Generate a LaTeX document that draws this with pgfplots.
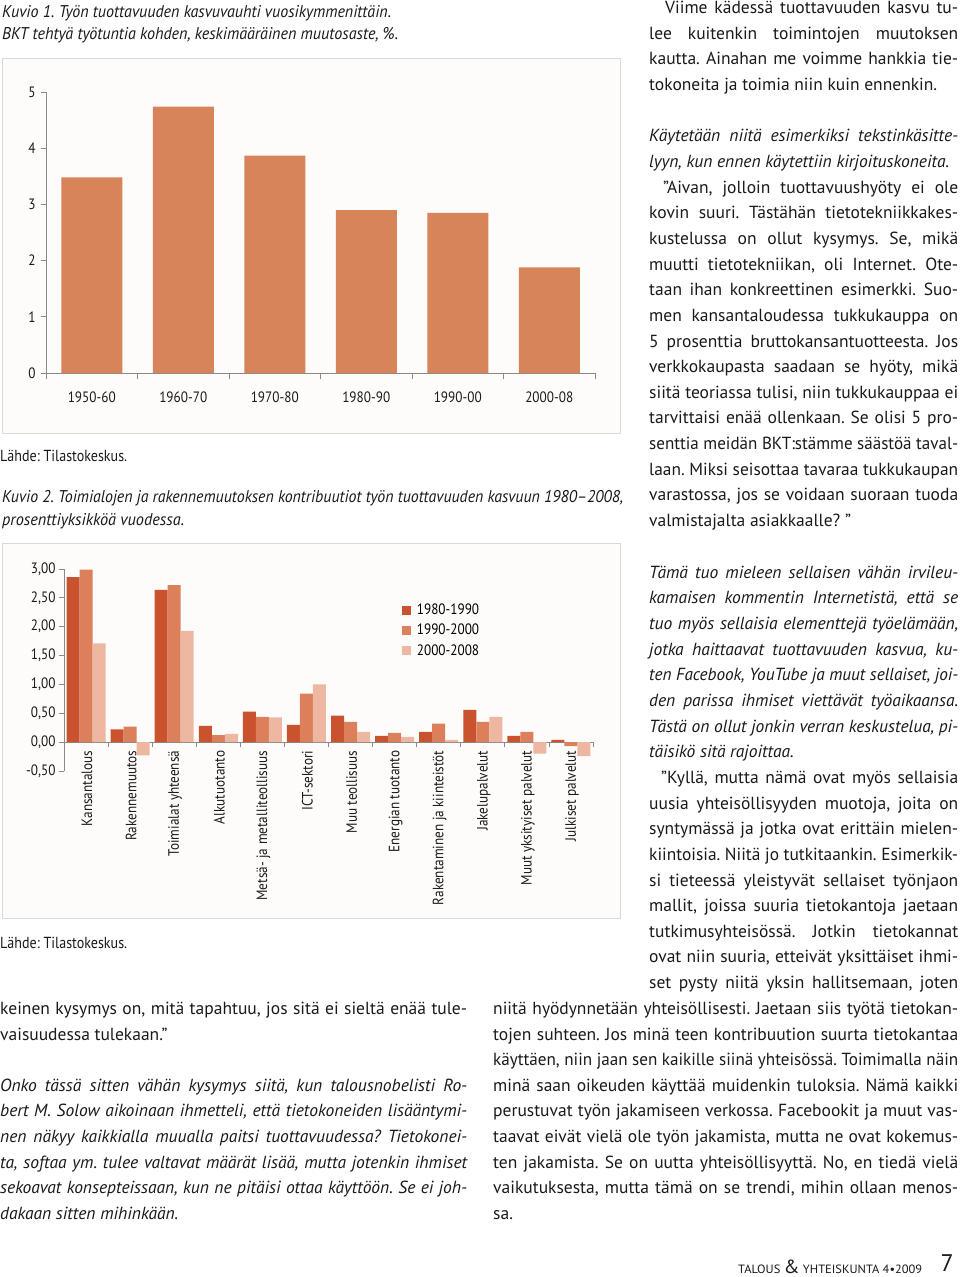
\documentclass[border=0pt]{standalone}
\usepackage{fontspec}
\usepackage{graphicx}
\usepackage{pgfplots}
\pgfplotsset{compat=1.18}
\setmainfont{PT Sans}
\newfontfamily\bodyfont{PT Sans}
\newfontfamily\condfont[FakeStretch=0.88]{PT Sans}
\newfontfamily\capfontfam[FakeStretch=0.8]{PT Sans}
\frenchspacing
\definecolor{barone}{HTML}{D8845A}
\definecolor{cA}{HTML}{C9532F}
\definecolor{cB}{HTML}{DC805C}
\definecolor{cC}{HTML}{EDB7A2}
\definecolor{frm}{HTML}{DDD8D2}
\definecolor{panel}{HTML}{FDFCFA}
\definecolor{axgray}{HTML}{8A8A8A}
\definecolor{txt}{HTML}{1A1A1A}
\newlength\jlw
\newcommand\JL[2]{\settowidth\jlw{#2}\ifdim\jlw>#1\relax\pgfmathsetmacro\jlr{#1/\jlw}\scalebox{\jlr}[1]{#2}\else\makebox[#1][s]{#2}\fi}
\newcommand\FW[2]{\settowidth\jlw{#2}\pgfmathsetmacro\jlr{#1/\jlw}\scalebox{\jlr}[1]{#2}}
\newcommand\bodyrm{\bodyfont\fontsize{17.5}{20}\selectfont\frenchspacing}
\newcommand\bodyit{\bodyfont\itshape\fontsize{17.5}{20}\selectfont\frenchspacing}
\newcommand\J[4]{\node[anchor=base west,inner sep=0pt,font=\bodyrm,text=txt] at (#1pt,-#2pt) {\JL{#3pt}{#4}};}
\newcommand\Ji[4]{\node[anchor=base west,inner sep=0pt,font=\bodyit,text=txt] at (#1pt,-#2pt) {\JL{#3pt}{#4}};}
\newcommand\Rg[3]{\node[anchor=base west,inner sep=0pt,font=\bodyrm,text=txt] at (#1pt,-#2pt) {#3};}
\newcommand\Rgi[3]{\node[anchor=base west,inner sep=0pt,font=\bodyit,text=txt] at (#1pt,-#2pt) {#3};}
\newcommand\chartfont{\condfont\fontsize{15}{18}\selectfont}
\newcommand\capit{\capfontfam\itshape\fontsize{17}{20}\selectfont\frenchspacing}
\begin{document}
\begin{tikzpicture}
\fill[white] (0,0) rectangle (960pt,-1277pt);
% ---------- chart 1 ----------
\node[anchor=base west,inner sep=0pt,font=\capit,text=txt] at (2pt,-17pt) {\FW{389pt}{Kuvio 1. Työn tuottavuuden kasvuvauhti vuosikymmenittäin.}};
\node[anchor=base west,inner sep=0pt,font=\capit,text=txt] at (2pt,-39pt) {\FW{396pt}{BKT tehtyä työtuntia kohden, keskimääräinen muutosaste, \%.}};
\draw[frm,fill=panel,line width=1pt] (2pt,-58pt) rectangle (620pt,-433pt);
\begin{axis}[
  at={(46pt,-373pt)}, anchor=south west,
  width=549pt, height=281pt, scale only axis,
  xmin=-0.5, xmax=5.5, ymin=0, ymax=5,
  axis x line*=bottom, axis y line*=left,
  axis line style={axgray,line width=0.8pt},
  ytick={0,1,2,3,4,5},
  xtick={0,1,2,3,4,5},
  xticklabels={1950-60,1960-70,1970-80,1980-90,1990-00,2000-08},
  minor xtick={-0.5,0.5,1.5,2.5,3.5,4.5,5.5},
  major x tick style={draw=none},
  tick style={axgray,line width=0.8pt},
  tick align=outside, major tick length=5pt, minor tick length=6pt,
  ticklabel style={font=\chartfont,text=txt},
  xticklabel style={yshift=-10pt},
  yticklabel style={xshift=-2pt},
  /pgf/number format/assume math mode=true,
  ybar, bar width=61pt,
]
\addplot[fill=barone,draw=none] coordinates {(0,3.48) (1,4.74) (2,3.87) (3,2.90) (4,2.85) (5,1.88)};
\end{axis}
\node[anchor=base west,inner sep=0pt,font=\condfont\fontsize{16}{19}\selectfont,text=txt] at (0pt,-461pt) {\FW{127pt}{Lähde: Tilastokeskus.}};
% ---------- chart 2 ----------
\node[anchor=base west,inner sep=0pt,font=\capit,text=txt] at (2pt,-502pt) {\FW{621pt}{Kuvio 2. Toimialojen ja rakennemuutoksen kontribuutiot työn tuottavuuden kasvuun 1980–2008,}};
\node[anchor=base west,inner sep=0pt,font=\capit,text=txt] at (2pt,-525pt) {\FW{182pt}{prosenttiyksikköä vuodessa.}};
\draw[frm,fill=panel,line width=1pt] (2pt,-543pt) rectangle (620pt,-918pt);
\begin{axis}[
  at={(64pt,-771pt)}, anchor=south west,
  width=529pt, height=202pt, scale only axis,
  xmin=-0.5, xmax=11.5, ymin=-0.5, ymax=3,
  axis x line*=middle, axis y line*=left,
  hide obscured y ticks=false, hide obscured x ticks=false,
  axis line style={axgray,line width=0.8pt},
  ytick={-0.5,0,0.5,1,1.5,2,2.5,3},
  yticklabel style={/pgf/number format/.cd,fixed,fixed zerofill,precision=2,use comma},
  /pgf/number format/assume math mode=true,
  xtick={0,...,11},
  xticklabels={Kansantalous,Rakennemuutos,Toimialat yhteensä,Alkutuotanto,Metsä- ja metalliteollisuus,ICT-sektori,Muu teollisuus,Energian tuotanto,Rakentaminen ja kiinteistöt,Jakelupalvelut,Muut yksityiset palvelut,Julkiset palvelut},
  minor xtick={-0.5,0.5,...,11.5},
  major x tick style={draw=none},
  tick style={axgray,line width=0.8pt},
  tick align=outside, major tick length=5pt, minor tick length=5pt,
  ticklabel style={font=\chartfont,text=txt},
  xticklabel style={rotate=90,anchor=east,yshift=-1pt},
  ybar=0pt, bar width=13pt,
  legend style={draw=none,fill=none,at={(axis cs:7.16,2.43)},anchor=north west,font=\chartfont,row sep=4pt,inner sep=0pt},
  legend cell align=left,
]
\addplot[fill=cA,draw=none,legend image code/.code={\fill[cA] (0pt,-4.5pt) rectangle (9pt,4.5pt); \path (13pt,0pt);}] coordinates {(0,2.86) (1,0.22) (2,2.64) (3,0.28) (4,0.53) (5,0.30) (6,0.46) (7,0.11) (8,0.18) (9,0.56) (10,0.11) (11,0.04)};
\addplot[fill=cB,draw=none,legend image code/.code={\fill[cB] (0pt,-4.5pt) rectangle (9pt,4.5pt); \path (13pt,0pt);}] coordinates {(0,2.99) (1,0.27) (2,2.72) (3,0.12) (4,0.44) (5,0.84) (6,0.35) (7,0.16) (8,0.32) (9,0.35) (10,0.18) (11,-0.07)};
\addplot[fill=cC,draw=none,legend image code/.code={\fill[cC] (0pt,-4.5pt) rectangle (9pt,4.5pt); \path (13pt,0pt);}] coordinates {(0,1.71) (1,-0.23) (2,1.93) (3,0.145) (4,0.43) (5,1.00) (6,0.18) (7,0.09) (8,0.04) (9,0.44) (10,-0.20) (11,-0.24)};
\legend{1980-1990,1990-2000,2000-2008}
\end{axis}
\node[anchor=base west,inner sep=0pt,font=\condfont\fontsize{16}{19}\selectfont,text=txt] at (0pt,-948pt) {\FW{127pt}{Lähde: Tilastokeskus.}};
% ---------- right column ----------
\J{665}{13}{293}{Viime kädessä tuottavuuden kasvu tu-}
\J{649}{39}{309}{lee kuitenkin toimintojen muutoksen}
\J{649}{64}{309}{kautta. Ainahan me voimme hankkia tie-}
\Rg{649}{90}{tokoneita ja toimia niin kuin ennenkin.}
\Ji{649}{141}{309}{Käytetään niitä esimerkiksi tekstinkäsitte-}
\Rgi{649}{167}{lyyn, kun ennen käytettiin kirjoituskoneita.}
\J{663}{193}{295}{”Aivan, jolloin tuottavuushyöty ei ole}
\J{649}{218}{309}{kovin suuri. Tästähän tietotekniikkakes-}
\J{649}{244}{309}{kustelussa on ollut kysymys. Se, mikä}
\J{649}{270}{309}{muutti tietotekniikan, oli Internet. Ote-}
\J{649}{295}{309}{taan ihan konkreettinen esimerkki. Suo-}
\J{649}{321}{309}{men kansantaloudessa tukkukauppa on}
\J{649}{347}{309}{5 prosenttia bruttokansantuotteesta. Jos}
\J{649}{372}{309}{verkkokaupasta saadaan se hyöty, mikä}
\J{649}{398}{309}{siitä teoriassa tulisi, niin tukkukauppaa ei}
\J{649}{423}{309}{tarvittaisi enää ollenkaan. Se olisi 5 pro-}
\J{649}{449}{309}{senttia meidän BKT:stämme säästöä taval-}
\J{649}{475}{309}{laan. Miksi seisottaa tavaraa tukkukaupan}
\J{649}{500}{309}{varastossa, jos se voidaan suoraan tuoda}
\Rg{649}{526}{valmistajalta asiakkaalle? ”}
\Ji{649}{578}{309}{Tämä tuo mieleen sellaisen vähän irvileu-}
\Ji{649}{603}{309}{kamaisen kommentin Internetistä, että se}
\Ji{649}{629}{309}{tuo myös sellaisia elementtejä työelämään,}
\Ji{649}{655}{309}{jotka haittaavat tuottavuuden kasvua, ku-}
\Ji{649}{680}{309}{ten Facebook, YouTube ja muut sellaiset, joi-}
\Ji{649}{706}{309}{den parissa ihmiset viettävät työaikaansa.}
\Ji{649}{732}{309}{Tästä on ollut jonkin verran keskustelua, pi-}
\Rgi{649}{757}{täisikö sitä rajoittaa.}
\J{661}{783}{297}{”Kyllä, mutta nämä ovat myös sellaisia}
\J{649}{809}{309}{uusia yhteisöllisyyden muotoja, joita on}
\J{649}{834}{309}{syntymässä ja jotka ovat erittäin mielen-}
\J{649}{860}{309}{kiintoisia. Niitä jo tutkitaankin. Esimerkik-}
\J{649}{886}{309}{si tieteessä yleistyvät sellaiset työnjaon}
\J{649}{911}{309}{mallit, joissa suuria tietokantoja jaetaan}
\J{649}{937}{309}{tutkimusyhteisössä. Jotkin tietokannat}
\J{649}{962}{309}{ovat niin suuria, etteivät yksittäiset ihmi-}
\J{649}{988}{309}{set pysty niitä yksin hallitsemaan, joten}
% ---------- bottom right ----------
\J{493}{1014}{465}{niitä hyödynnetään yhteisöllisesti. Jaetaan siis työtä tietokan-}
\J{493}{1040}{465}{tojen suhteen. Jos minä teen kontribuution suurta tietokantaa}
\J{493}{1065}{465}{käyttäen, niin jaan sen kaikille siinä yhteisössä. Toimimalla näin}
\J{493}{1091}{465}{minä saan oikeuden käyttää muidenkin tuloksia. Nämä kaikki}
\J{493}{1116}{465}{perustuvat työn jakamiseen verkossa. Facebookit ja muut vas-}
\J{493}{1142}{465}{taavat eivät vielä ole työn jakamista, mutta ne ovat kokemus-}
\J{493}{1168}{465}{ten jakamista. Se on uutta yhteisöllisyyttä. No, en tiedä vielä}
\J{493}{1193}{465}{vaikutuksesta, mutta tämä on se trendi, mihin ollaan menos-}
\Rg{493}{1219}{sa.}
% ---------- bottom left ----------
\J{0}{1014}{467}{keinen kysymys on, mitä tapahtuu, jos sitä ei sieltä enää tule-}
\Rg{0}{1040}{vaisuudessa tulekaan.”}
\Ji{0}{1091}{467}{Onko tässä sitten vähän kysymys siitä, kun talousnobelisti Ro-}
\Ji{0}{1116}{467}{bert M. Solow aikoinaan ihmetteli, että tietokoneiden lisääntymi-}
\Ji{0}{1142}{467}{nen näkyy kaikkialla muualla paitsi tuottavuudessa? Tietokonei-}
\Ji{0}{1168}{467}{ta, softaa ym. tulee valtavat määrät lisää, mutta jotenkin ihmiset}
\Ji{0}{1193}{467}{sekoavat konsepteissaan, kun ne pitäisi ottaa käyttöön. Se ei joh-}
\Rgi{0}{1219}{dakaan sitten mihinkään.}
% ---------- footer ----------
\node[anchor=base west,inner sep=0pt,text=txt] at (738pt,-1273pt) {\FW{184pt}{\fontsize{12}{14}\selectfont TALOUS {\fontsize{19}{20}\selectfont\&} YHTEISKUNTA 4•2009}};
\node[anchor=base east,inner sep=0pt,text=txt,font=\fontsize{24}{26}\selectfont] at (954pt,-1271pt) {7};
\pgfresetboundingbox
\useasboundingbox (0,0) rectangle (960pt,-1277pt);
\end{tikzpicture}
\end{document}
